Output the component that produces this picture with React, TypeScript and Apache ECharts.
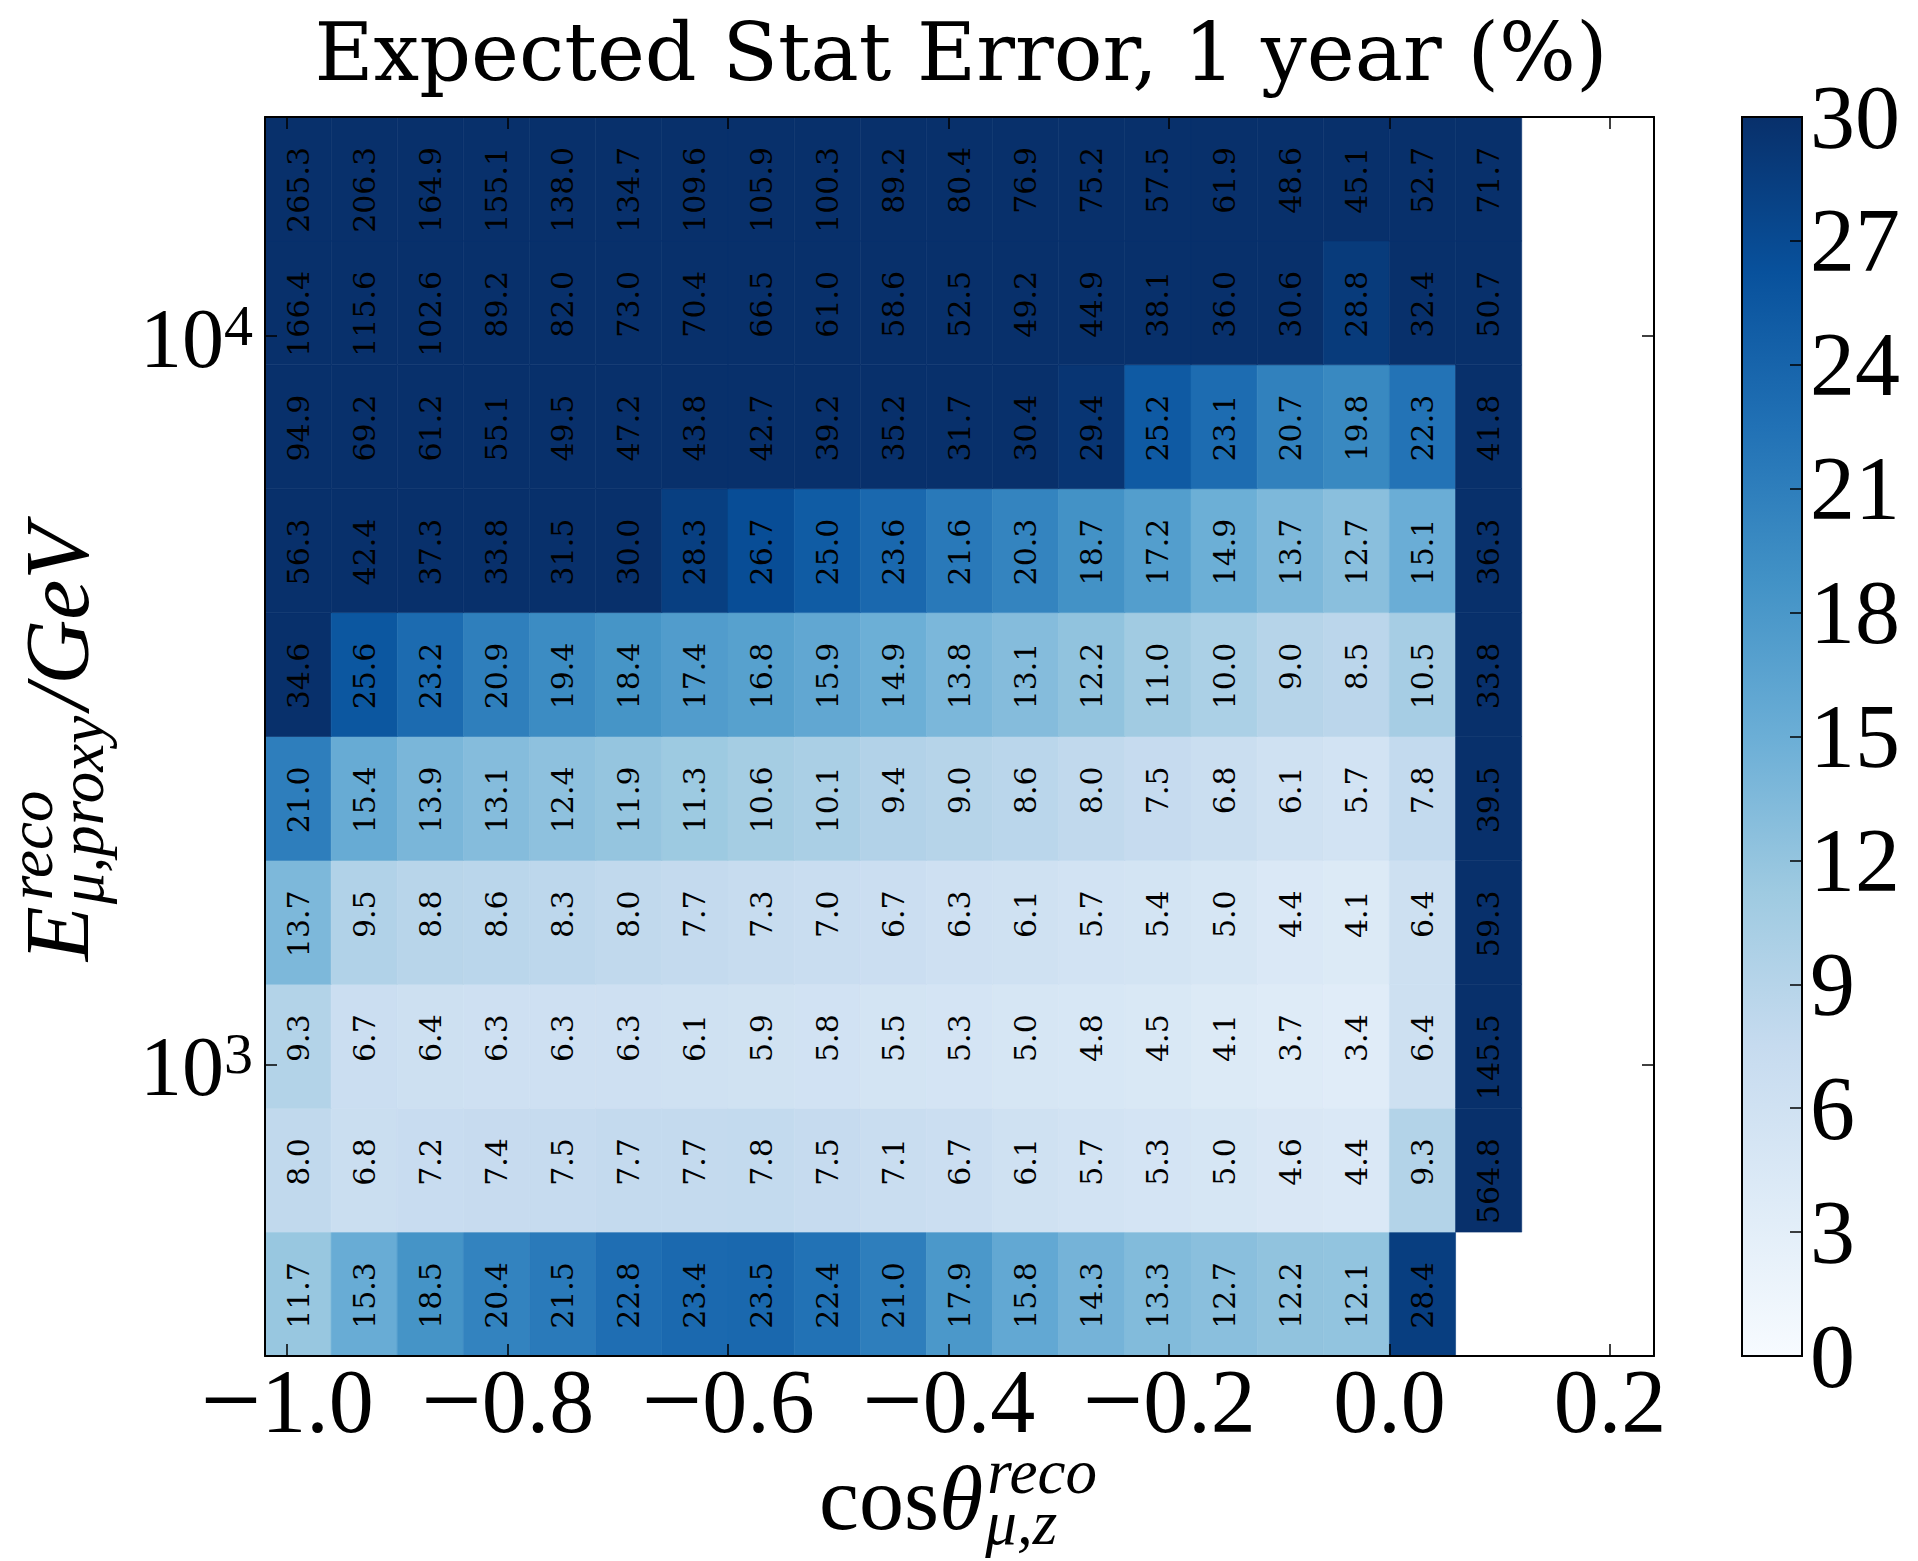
import React, { useEffect, useRef } from "react";
import * as echarts from "echarts";

// ---------------- data ----------------
// bin edges in cos(theta) and in log10(E / GeV)
const cosBinEdges = [-1.02, -0.96, -0.9, -0.84, -0.78, -0.72, -0.66, -0.6, -0.54, -0.48, -0.42, -0.36, -0.3, -0.24, -0.18, -0.12, -0.06, 0.0, 0.06, 0.12];
const log10EnergyBinEdges = [2.6, 2.77, 2.94, 3.11, 3.28, 3.45, 3.62, 3.79, 3.96, 4.13, 4.3];

// expected stat error (%) per cos bin, one array per energy bin (lowest energy first)
const statErrE01 = [11.7, 15.3, 18.5, 20.4, 21.5, 22.8, 23.4, 23.5, 22.4, 21.0, 17.9, 15.8, 14.3, 13.3, 12.7, 12.2, 12.1, 28.4, null];
const statErrE02 = [8.0, 6.8, 7.2, 7.4, 7.5, 7.7, 7.7, 7.8, 7.5, 7.1, 6.7, 6.1, 5.7, 5.3, 5.0, 4.6, 4.4, 9.3, 564.8];
const statErrE03 = [9.3, 6.7, 6.4, 6.3, 6.3, 6.3, 6.1, 5.9, 5.8, 5.5, 5.3, 5.0, 4.8, 4.5, 4.1, 3.7, 3.4, 6.4, 145.5];
const statErrE04 = [13.7, 9.5, 8.8, 8.6, 8.3, 8.0, 7.7, 7.3, 7.0, 6.7, 6.3, 6.1, 5.7, 5.4, 5.0, 4.4, 4.1, 6.4, 59.3];
const statErrE05 = [21.0, 15.4, 13.9, 13.1, 12.4, 11.9, 11.3, 10.6, 10.1, 9.4, 9.0, 8.6, 8.0, 7.5, 6.8, 6.1, 5.7, 7.8, 39.5];
const statErrE06 = [34.6, 25.6, 23.2, 20.9, 19.4, 18.4, 17.4, 16.8, 15.9, 14.9, 13.8, 13.1, 12.2, 11.0, 10.0, 9.0, 8.5, 10.5, 33.8];
const statErrE07 = [56.3, 42.4, 37.3, 33.8, 31.5, 30.0, 28.3, 26.7, 25.0, 23.6, 21.6, 20.3, 18.7, 17.2, 14.9, 13.7, 12.7, 15.1, 36.3];
const statErrE08 = [94.9, 69.2, 61.2, 55.1, 49.5, 47.2, 43.8, 42.7, 39.2, 35.2, 31.7, 30.4, 29.4, 25.2, 23.1, 20.7, 19.8, 22.3, 41.8];
const statErrE09 = [166.4, 115.6, 102.6, 89.2, 82.0, 73.0, 70.4, 66.5, 61.0, 58.6, 52.5, 49.2, 44.9, 38.1, 36.0, 30.6, 28.8, 32.4, 50.7];
const statErrE10 = [265.3, 206.3, 164.9, 155.1, 138.0, 134.7, 109.6, 105.9, 100.3, 89.2, 80.4, 76.9, 75.2, 57.5, 61.9, 48.6, 45.1, 52.7, 71.7];

const xTickValues = [-1.0, -0.8, -0.6, -0.4, -0.2, 0.0, 0.2];
const yTickExponents = [3, 4];
const colorbarMin = 0;
const colorbarMax = 30;
const colorbarStep = 3;
const bluesColors = ["#f7fbff", "#deebf7", "#c6dbef", "#9ecae1", "#6baed6", "#4292c6", "#2171b5", "#08519c", "#08306b"];

const titleText = "Expected Stat Error, 1 year (%)";

// ---------------- helpers ----------------
const statErrRows = [statErrE01, statErrE02, statErrE03, statErrE04, statErrE05, statErrE06, statErrE07, statErrE08, statErrE09, statErrE10];

function buildCells() {
  const out: any[] = [];
  statErrRows.forEach((row, r) => {
    row.forEach((v, c) => {
      if (v === null || v === undefined) return;
      out.push([c, r, v, Math.min(v as number, colorbarMax)]);
    });
  });
  return out;
}

const SERIF_MATH = '"Liberation Serif"';
const SERIF_TEXT = '"DejaVu Serif"';
const K_LIB = 0.3375; // central baseline offset (em) for Liberation Serif
const K_DJV = 0.346; // for DejaVu Serif

let measureCtx: CanvasRenderingContext2D | null = null;
function measure(text: string, font: string): number {
  if (!measureCtx) measureCtx = document.createElement("canvas").getContext("2d");
  if (!measureCtx) return text.length * 40;
  measureCtx.font = font;
  return measureCtx.measureText(text).width;
}

function fmtTick(v: number): string {
  const s = Math.abs(v).toFixed(1);
  return v < -1e-9 ? `{m|\u2212}{n|${s}}` : `{n|${s}}`;
}

export default function App() {
  const ref = useRef<HTMLDivElement>(null);

  useEffect(() => {
    if (!ref.current) return;
    const chart = echarts.init(ref.current, null, { renderer: "svg" });

    // plot geometry
    const gLeft = 265, gTop = 117, gWidth = 1389, gHeight = 1239;
    const cbLeft = 1742, cbWidth = 60;

    const fsMain = 90;
    const fsScript = 63;
    const lhMain = 70;
    const lhScript = 40;

    // ---- x axis label: cos θ^{reco}_{μ,z}
    const fUp = `${fsMain}px ${SERIF_MATH}`;
    const fIt = `italic ${fsMain}px ${SERIF_MATH}`;
    const fItS = `italic ${fsScript}px ${SERIF_MATH}`;
    const wCos = measure("cos", fUp);
    const wTheta = measure("θ", fIt);
    const wReco = measure("reco", fItS);
    const wSubX = measure("μ,z", fItS);
    const xLabTotal = wCos + wTheta + 4 + Math.max(wReco, wSubX);
    const xLabStart = 958 - xLabTotal / 2;
    const xLabBase = 1529;
    const supRaise = 36;
    const subDrop = 15;

    const mainStyle = (text: string, italic: boolean) => ({
      text, fontFamily: SERIF_MATH, fontStyle: italic ? "italic" : "normal", fontSize: fsMain, lineHeight: lhMain,
      fill: "#000", align: "left", verticalAlign: "middle",
    });
    const scriptStyle = (text: string) => ({
      text, fontFamily: SERIF_MATH, fontStyle: "italic", fontSize: fsScript, lineHeight: lhScript,
      fill: "#000", align: "left", verticalAlign: "middle",
    });

    const xLabel = {
      type: "group",
      children: [
        { type: "text", x: xLabStart, y: xLabBase - K_LIB * fsMain, style: mainStyle("cos", false) },
        { type: "text", x: xLabStart + wCos, y: xLabBase - K_LIB * fsMain, style: mainStyle("θ", true) },
        { type: "text", x: xLabStart + wCos + wTheta + 4, y: xLabBase - supRaise - K_LIB * fsScript, style: scriptStyle("reco") },
        { type: "text", x: xLabStart + wCos + wTheta + 2, y: xLabBase + subDrop - K_LIB * fsScript, style: scriptStyle("μ,z") },
      ],
    };

    // ---- y axis label: E^{reco}_{μ,proxy}/GeV (rotated)
    const wE = measure("E", fIt);
    const wSubY = measure("μ,proxy", fItS);
    const wGeV = measure("/GeV", fIt);
    const yScriptW = Math.max(wReco, wSubY);
    const yLabTotal = wE + 4 + yScriptW + 4 + wGeV;
    const y0 = -yLabTotal / 2;
    const yLabel = {
      type: "group",
      x: 88,
      y: 743,
      rotation: Math.PI / 2,
      children: [
        { type: "text", x: y0, y: -K_LIB * fsMain, style: mainStyle("E", true) },
        { type: "text", x: y0 + wE + 6, y: -supRaise - K_LIB * fsScript, style: scriptStyle("reco") },
        { type: "text", x: y0 + wE + 2, y: subDrop - K_LIB * fsScript, style: scriptStyle("μ,proxy") },
        { type: "text", x: y0 + wE + 4 + yScriptW + 4, y: -K_LIB * fsMain, style: mainStyle("/GeV", true) },
      ],
    };

    const titleFs = 81;
    const title = {
      type: "text",
      x: 961,
      y: 80 - K_DJV * titleFs,
      style: { text: titleText, fontFamily: SERIF_TEXT, fontSize: titleFs, fill: "#000", align: "center", verticalAlign: "middle" },
    };

    const axisLineStyle = { color: "#000", width: 2 };
    const tickStyle = { color: "#000", width: 1.5 };
    const tickLabelStyle = { fontFamily: SERIF_MATH, fontSize: fsMain, color: "#000" };

    const mainX = (position: string, showLabel: boolean) => ({
      gridIndex: 0,
      type: "value",
      position,
      min: cosBinEdges[0],
      max: 0.24,
      z: 10,
      splitLine: { show: false },
      axisLine: { show: true, onZero: false, lineStyle: axisLineStyle },
      axisTick: { show: true, inside: true, length: 12, customValues: xTickValues, lineStyle: tickStyle },
      axisLabel: {
        show: showLabel,
        customValues: xTickValues,
        formatter: (v: number) => fmtTick(v),
        margin: 0,
        lineHeight: fsMain,
        ...tickLabelStyle,
        rich: {
          m: { fontFamily: SERIF_MATH, fontSize: 108, lineHeight: fsMain, verticalAlign: "middle", color: "#000", padding: [0, 0, 4, 0] },
          n: { fontFamily: SERIF_MATH, fontSize: fsMain, lineHeight: fsMain, verticalAlign: "middle", color: "#000" },
        },
      },
    });

    const yFsB = 84;
    const yFsS = 58;
    const mainY = (position: string, showLabel: boolean) => ({
      gridIndex: 0,
      type: "value",
      position,
      min: log10EnergyBinEdges[0],
      max: log10EnergyBinEdges[log10EnergyBinEdges.length - 1],
      z: 10,
      splitLine: { show: false },
      axisLine: { show: true, onZero: false, lineStyle: axisLineStyle },
      axisTick: { show: true, inside: true, length: 12, customValues: yTickExponents, lineStyle: tickStyle },
      axisLabel: {
        show: showLabel,
        customValues: yTickExponents,
        formatter: (v: number) => `{b|10}{s|${Math.round(v)}}`,
        margin: 12,
        padding: [5, 0, 0, 0],
        rich: {
          b: { fontFamily: SERIF_MATH, fontSize: yFsB, lineHeight: yFsB, verticalAlign: "bottom", color: "#000" },
          s: { fontFamily: SERIF_MATH, fontSize: yFsS, lineHeight: 40, verticalAlign: "top", color: "#000" },
        },
      },
    });

    const cells = buildCells();

    const option: any = {
      animation: false,
      backgroundColor: "#ffffff",
      grid: [
        { left: gLeft, top: gTop, width: gWidth, height: gHeight, containLabel: false, outerBoundsMode: "none" },
        { left: cbLeft, top: gTop, width: cbWidth, height: gHeight, containLabel: false, outerBoundsMode: "none" },
      ],
      xAxis: [
        mainX("bottom", true),
        mainX("top", false),
        { gridIndex: 1, type: "value", min: 0, max: 1, show: false },
      ],
      yAxis: [
        mainY("left", true),
        mainY("right", false),
        {
          gridIndex: 1,
          type: "value",
          position: "right",
          min: colorbarMin,
          max: colorbarMax,
          interval: colorbarStep,
          z: 10,
          splitLine: { show: false },
          axisLine: { show: false, onZero: false },
          axisTick: { show: true, inside: true, length: 12, lineStyle: tickStyle },
          axisLabel: { margin: 8, padding: [0, 0, 18, 0], lineHeight: fsMain, ...tickLabelStyle },
        },
      ],
      visualMap: {
        type: "continuous",
        show: false,
        min: colorbarMin,
        max: colorbarMax,
        dimension: 3,
        seriesIndex: 0,
        inRange: { color: bluesColors },
      },
      graphic: [title, xLabel, yLabel],
      series: [
        {
          type: "custom",
          xAxisIndex: 0,
          yAxisIndex: 0,
          clip: false,
          data: cells,
          renderItem: (params: any, api: any) => {
            const c = api.value(0);
            const r = api.value(1);
            const v = api.value(2);
            const p0 = api.coord([cosBinEdges[c], log10EnergyBinEdges[r]]);
            const p1 = api.coord([cosBinEdges[c + 1], log10EnergyBinEdges[r + 1]]);
            const color = api.visual("color");
            const cx = (p0[0] + p1[0]) / 2;
            const cy = (p0[1] + p1[1]) / 2;
            return {
              type: "group",
              children: [
                {
                  type: "rect",
                  shape: { x: p0[0], y: p1[1], width: p1[0] - p0[0], height: p0[1] - p1[1] },
                  style: { fill: color, stroke: color, lineWidth: 0.6 },
                },
                {
                  type: "text",
                  x: cx,
                  y: cy - 32,
                  rotation: Math.PI / 2,
                  style: {
                    text: Number(v).toFixed(1),
                    fontFamily: SERIF_TEXT,
                    fontSize: 30,
                    lineHeight: 30,
                    fill: "#000",
                    align: "right",
                    verticalAlign: "middle",
                  },
                },
              ],
            };
          },
        },
        {
          type: "custom",
          xAxisIndex: 2,
          yAxisIndex: 2,
          data: [[0, colorbarMin]],
          renderItem: (params: any, api: any) => {
            const pb = api.coord([0, colorbarMin]);
            const pt = api.coord([1, colorbarMax]);
            const shape = { x: pb[0], y: pt[1], width: pt[0] - pb[0], height: pb[1] - pt[1] };
            const grad = new echarts.graphic.LinearGradient(
              0, 1, 0, 0,
              bluesColors.map((col, i) => ({ offset: i / (bluesColors.length - 1), color: col }))
            );
            return {
              type: "group",
              children: [
                { type: "rect", shape, style: { fill: grad } },
                { type: "rect", shape, style: { fill: "none", stroke: "#000", lineWidth: 2 } },
              ],
            };
          },
        },
      ],
    };

    chart.setOption(option);
    return () => {
      chart.dispose();
    };
  }, []);

  return (
    <div
      ref={ref}
      style={{ position: "absolute", left: 0, top: 0, width: 1918, height: 1561, background: "#fff" }}
    />
  );
}
